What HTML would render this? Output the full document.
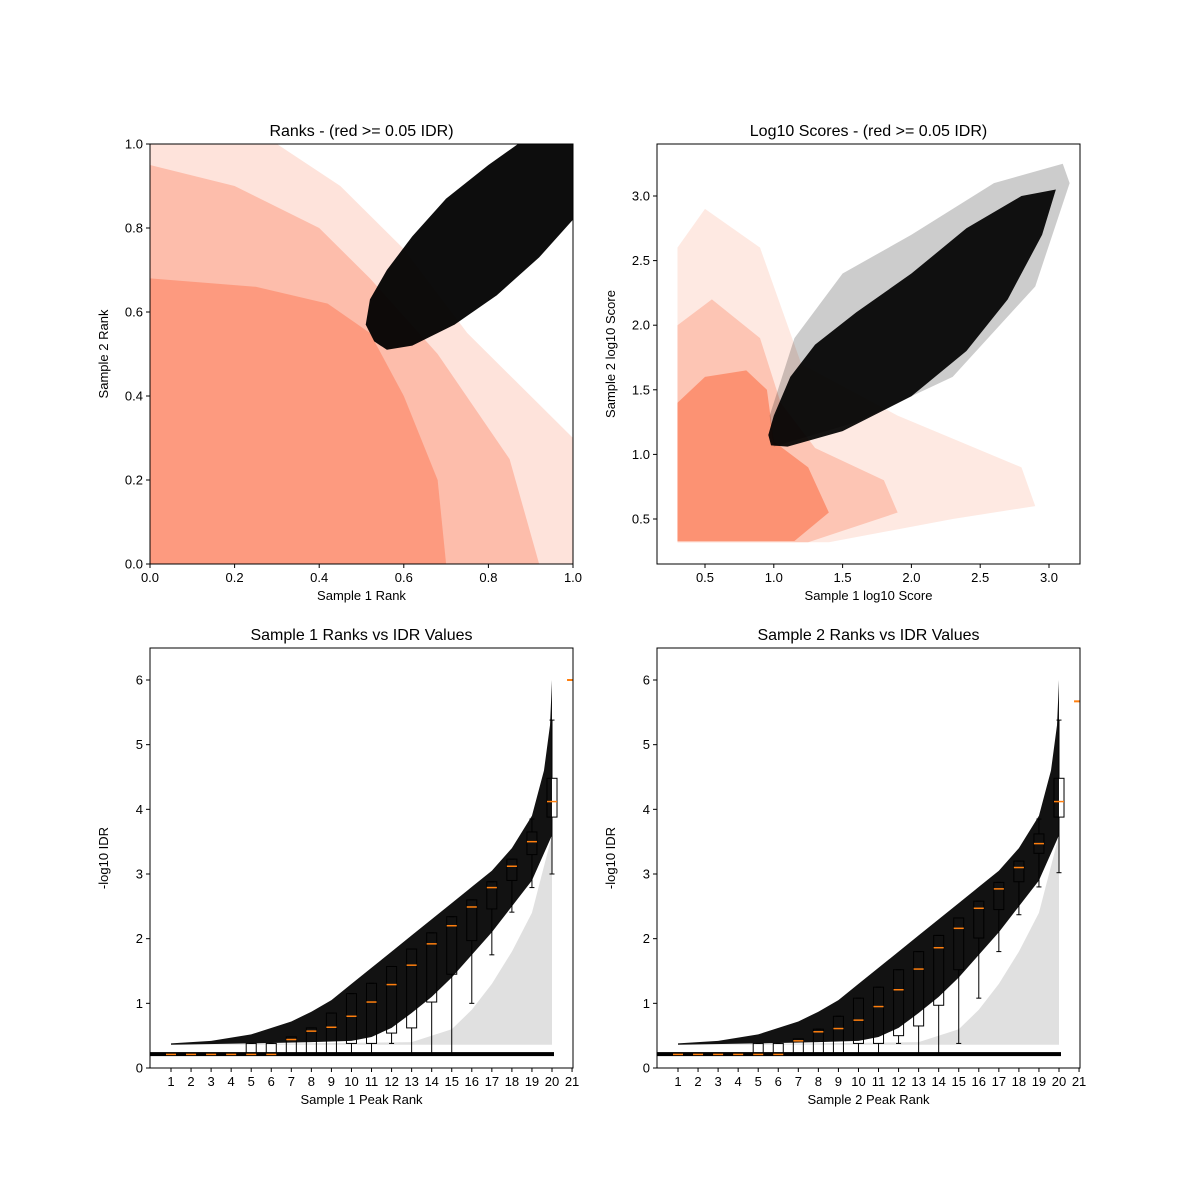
<!DOCTYPE html>
<html><head><meta charset="utf-8">
<style>
body{margin:0;background:#fff;}
svg{display:block;font-family:"Liberation Sans","DejaVu Sans",sans-serif;}
text{fill:#000;}
</style></head>
<body>
<svg id="fig" width="1200" height="1200" viewBox="0 0 1200 1200"></svg>
<script>
// ---------- data ----------
const rankXTicks=[0,0.2,0.4,0.6,0.8,1.0];
const rankYTicks=[0,0.2,0.4,0.6,0.8,1.0];
const rankTickLabels=["0.0","0.2","0.4","0.6","0.8","1.0"];
const rankSalmonFaint=[[0,0],[1,0],[1,0.3],[0.75,0.55],[0.6,0.75],[0.45,0.9],[0.3,1],[0,1]];
const rankSalmonMid=[[0,0],[0.92,0],[0.85,0.25],[0.68,0.5],[0.52,0.68],[0.4,0.8],[0.2,0.9],[0,0.95]];
const rankSalmonDense=[[0,0],[0.7,0],[0.68,0.2],[0.6,0.4],[0.52,0.55],[0.42,0.62],[0.25,0.66],[0,0.68]];
const rankBlack=[[0.53,0.53],[0.56,0.51],[0.62,0.52],[0.72,0.57],[0.82,0.64],[0.92,0.73],[1,0.82],[1,1],[0.87,1],[0.8,0.95],[0.7,0.87],[0.62,0.78],[0.56,0.7],[0.52,0.63],[0.51,0.57]];

const scoreXTicks=[0.5,1.0,1.5,2.0,2.5,3.0];
const scoreYTicks=[0.5,1.0,1.5,2.0,2.5,3.0];
const scoreTickLabels=["0.5","1.0","1.5","2.0","2.5","3.0"];
const scoreSalmonFaint=[[0.3,0.32],[1.4,0.32],[2.3,0.5],[2.9,0.6],[2.8,0.9],[1.9,1.3],[1.2,1.7],[0.9,2.6],[0.5,2.9],[0.3,2.6]];
const scoreSalmonMid=[[0.3,0.32],[1.25,0.32],[1.9,0.55],[1.8,0.8],[1.3,1.05],[1.05,1.4],[0.9,1.9],[0.55,2.2],[0.3,2.0]];
const scoreSalmonDense=[[0.3,0.33],[1.15,0.33],[1.4,0.55],[1.25,0.9],[1.0,1.1],[0.95,1.5],[0.8,1.65],[0.5,1.6],[0.3,1.4]];
const scoreBlackFaint=[[1.0,1.06],[1.6,1.25],[2.3,1.6],[2.9,2.3],[3.15,3.1],[3.1,3.25],[2.6,3.1],[2.0,2.7],[1.5,2.4],[1.15,1.9],[0.97,1.3]];
const scoreBlack=[[0.98,1.07],[1.1,1.06],[1.5,1.18],[2.0,1.45],[2.4,1.8],[2.7,2.2],[2.95,2.7],[3.05,3.05],[2.8,3.0],[2.4,2.75],[2.0,2.4],[1.6,2.1],[1.3,1.85],[1.12,1.6],[1.0,1.3],[0.96,1.15]];

const peakXTicks=[1,2,3,4,5,6,7,8,9,10,11,12,13,14,15,16,17,18,19,20,21];
const idrYTicks=[0,1,2,3,4,5,6];
const idrUpper=[[1,0.38],[3,0.42],[5,0.52],[7,0.72],[8,0.87],[9,1.05],[10,1.3],[11,1.55],[12,1.8],[13,2.05],[14,2.3],[15,2.55],[16,2.8],[17,3.05],[18,3.4],[19,3.9],[19.6,4.6],[19.9,5.3],[20,6.0]];
const idrBandLow=[[20,3.6],[19,2.9],[18,2.5],[17,2.1],[16,1.75],[15,1.4],[14,1.1],[13,0.85],[12,0.62],[11,0.48],[10,0.42],[8,0.4],[5,0.38],[1,0.36]];
const idrFaint=[[1,0.36],[20,0.36],[20,3.6],[19,2.4],[18,1.8],[17,1.3],[16,0.9],[15,0.6],[13,0.4]];
const idrFloor=0.215;
const box1Pos=[1,2,3,4,5,6,7,8,9,10,11,12,13,14,15,16,17,18,19,20];
const box1Med=[0.21,0.21,0.21,0.21,0.21,0.21,0.44,0.57,0.63,0.80,1.02,1.29,1.59,1.92,2.20,2.49,2.79,3.12,3.50,4.12];
const box1Q1=[0.21,0.21,0.21,0.21,0.21,0.21,0.21,0.21,0.21,0.38,0.38,0.54,0.62,1.02,1.45,1.97,2.46,2.90,3.30,3.88];
const box1Q3=[0.21,0.21,0.21,0.21,0.38,0.38,0.48,0.62,0.85,1.15,1.31,1.57,1.84,2.09,2.34,2.60,2.88,3.23,3.65,4.48];
const box1Lo=[0.21,0.21,0.21,0.21,0.21,0.21,0.21,0.21,0.21,0.21,0.21,0.38,0.21,0.21,0.21,1.0,1.75,2.41,2.79,3.0];
const box1Hi=[0.21,0.21,0.21,0.21,0.38,0.38,0.48,0.62,0.85,1.15,1.31,1.57,1.84,2.09,2.34,2.60,2.88,3.23,3.85,5.38];
const box2Med=[0.21,0.21,0.21,0.21,0.21,0.21,0.42,0.56,0.61,0.74,0.95,1.21,1.53,1.86,2.16,2.47,2.77,3.10,3.47,4.12];
const box2Q1=[0.21,0.21,0.21,0.21,0.21,0.21,0.21,0.21,0.21,0.38,0.38,0.50,0.65,0.97,1.52,2.01,2.45,2.88,3.32,3.88];
const box2Q3=[0.21,0.21,0.21,0.21,0.38,0.38,0.45,0.60,0.80,1.08,1.25,1.52,1.80,2.05,2.32,2.58,2.87,3.20,3.62,4.48];
const box2Lo=[0.21,0.21,0.21,0.21,0.21,0.21,0.21,0.21,0.21,0.21,0.21,0.38,0.21,0.21,0.38,1.08,1.80,2.37,2.80,3.02];
const box2Hi=[0.21,0.21,0.21,0.21,0.38,0.38,0.45,0.60,0.80,1.08,1.25,1.52,1.80,2.05,2.32,2.58,2.87,3.20,3.85,5.38];
const outlier1=[21,6.0];
const outlier2=[21,5.67];

// ---------- drawing ----------
const NS="http://www.w3.org/2000/svg";
const fig=document.getElementById('fig');
function mk(tag,attrs,parent){const e=document.createElementNS(NS,tag);for(const k in attrs)e.setAttribute(k,attrs[k]);(parent||fig).appendChild(e);return e;}
function linScale(d0,d1,r0,r1){return v=>r0+(v-d0)/(d1-d0)*(r1-r0);}
function poly(pts,sx,sy,fill,op,g,name){
  const p=mk('polygon',{points:pts.map(q=>sx(q[0])+','+sy(q[1])).join(' '),fill:fill,'fill-opacity':op},g);
  
  
  return p;
}
function axesFrame(x0,y0,w,h,name){
  const g=mk('g',{});
  
  
  const cid='clip-'+name;
  const cp=mk('clipPath',{id:cid},g);mk('rect',{x:x0,y:y0,width:w,height:h},cp);
  const inner=mk('g',{'clip-path':'url(#'+cid+')'},g);
  return {g,inner};
}
function finishAxes(g,x0,y0,w,h,sx,sy,xt,xl,yt,yl,title,xlab,ylab,prefix){
  const fr=mk('rect',{x:x0,y:y0,width:w,height:h,fill:'none',stroke:'#000','stroke-width':1},g);
  
  
  xt.forEach((v,i)=>{const X=sx(v);mk('line',{x1:X,x2:X,y1:y0+h,y2:y0+h+4,stroke:'#000'},g);
    const t=mk('text',{x:X,y:y0+h+18,'font-size':13,'text-anchor':'middle'},g);t.textContent=xl[i];
    
    });
  yt.forEach((v,i)=>{const Y=sy(v);mk('line',{x1:x0-4,x2:x0,y1:Y,y2:Y,stroke:'#000'},g);
    const t=mk('text',{x:x0-7,y:Y+4.5,'font-size':13,'text-anchor':'end'},g);t.textContent=yl[i];
    
    });
  const tt=mk('text',{x:x0+w/2,y:y0-8,'font-size':16,'text-anchor':'middle'},g);tt.textContent=title;
  
  
  const xa=mk('text',{x:x0+w/2,y:y0+h+36,'font-size':13,'text-anchor':'middle'},g);xa.textContent=xlab;
  
  
  const cy=y0+h/2;
  const ya=mk('text',{x:0,y:0,'font-size':13,'text-anchor':'middle',transform:'translate('+(x0-42)+','+cy+') rotate(-90)'},g);ya.textContent=ylab;
  
  
}
const SAL='#fc8f70';

// Panel 1: ranks
(function(){
  const x0=150,y0=144,w=423,h=420;
  const sx=linScale(0,1,x0,x0+w), sy=linScale(0,1,y0+h,y0);
  const {g,inner}=axesFrame(x0,y0,w,h,'ranks-panel');
  poly(rankSalmonFaint,sx,sy,SAL,0.25,inner,'rank-salmon-sparse');
  poly(rankSalmonMid,sx,sy,SAL,0.45,inner,'rank-salmon-mid');
  poly(rankSalmonDense,sx,sy,SAL,0.75,inner,'rank-salmon-dense');
  poly(rankBlack,sx,sy,'#000',0.95,inner,'rank-black-points');
  finishAxes(g,x0,y0,w,h,sx,sy,rankXTicks,rankTickLabels,rankYTicks,rankTickLabels,'Ranks - (red >= 0.05 IDR)','Sample 1 Rank','Sample 2 Rank','ranks');
})();

// Panel 2: log10 scores
(function(){
  const x0=657,y0=144,w=423,h=420;
  const sx=linScale(0.5,3.0,705,1049), sy=linScale(0.5,3.0,519,196);
  const {g,inner}=axesFrame(x0,y0,w,h,'scores-panel');
  poly(scoreSalmonFaint,sx,sy,SAL,0.2,inner,'score-salmon-sparse');
  poly(scoreSalmonMid,sx,sy,SAL,0.4,inner,'score-salmon-mid');
  poly(scoreSalmonDense,sx,sy,SAL,0.95,inner,'score-salmon-dense');
  poly(scoreBlackFaint,sx,sy,'#000',0.2,inner,'score-black-sparse');
  poly(scoreBlack,sx,sy,'#000',0.92,inner,'score-black-points');
  finishAxes(g,x0,y0,w,h,sx,sy,scoreXTicks,scoreTickLabels,scoreYTicks,scoreTickLabels,'Log10 Scores - (red >= 0.05 IDR)','Sample 1 log10 Score','Sample 2 log10 Score','scores');
})();

// Panels 3/4: IDR
function idrPanel(x0,med,q1,q3,lo,hi,out,title,xlab,prefix){
  const y0=648,w=423,h=420;
  const sx=linScale(1,20,x0+21,x0+402), sy=linScale(0,6,1068,680);
  const {g,inner}=axesFrame(x0,y0,w,h,prefix+'-panel');
  poly(idrFaint,sx,sy,'#000',0.12,inner,prefix+'-sparse-points');
  const band=idrUpper.concat(idrBandLow);
  poly(band,sx,sy,'#000',0.93,inner,prefix+'-dense-points');
  const fl=mk('rect',{x:x0,y:sy(idrFloor)-2,width:sx(20)-x0+2,height:4,fill:'#000'},inner);
  
  
  const bw=sx(1.25)-sx(1);
  box1Pos.forEach((p,i)=>{
    const bg=mk('g',{},inner);
    
    
    const X=sx(p);
    mk('line',{x1:X,x2:X,y1:sy(lo[i]),y2:sy(q1[i]),stroke:'#000','stroke-width':1},bg);
    mk('line',{x1:X,x2:X,y1:sy(q3[i]),y2:sy(hi[i]),stroke:'#000','stroke-width':1},bg);
    mk('line',{x1:X-bw/2,x2:X+bw/2,y1:sy(lo[i]),y2:sy(lo[i]),stroke:'#000'},bg);
    mk('line',{x1:X-bw/2,x2:X+bw/2,y1:sy(hi[i]),y2:sy(hi[i]),stroke:'#000'},bg);
    mk('rect',{x:X-bw,y:sy(q3[i]),width:2*bw,height:Math.max(0.5,sy(q1[i])-sy(q3[i])),fill:'none',stroke:'#000','stroke-width':1},bg);
    mk('line',{x1:X-bw,x2:X+bw,y1:sy(med[i]),y2:sy(med[i]),stroke:'#ff7f0e','stroke-width':1.5},bg);
  });
  const o=mk('line',{x1:sx(out[0])-bw,x2:sx(out[0])+bw,y1:sy(out[1]),y2:sy(out[1]),stroke:'#ff7f0e','stroke-width':2},inner);
  
  
  finishAxes(g,x0,y0,w,h,sx,sy,peakXTicks,peakXTicks.map(String),idrYTicks,idrYTicks.map(String),title,xlab,'-log10 IDR',prefix);
}
idrPanel(150,box1Med,box1Q1,box1Q3,box1Lo,box1Hi,outlier1,'Sample 1 Ranks vs IDR Values','Sample 1 Peak Rank','idr1');
idrPanel(657,box2Med,box2Q1,box2Q3,box2Lo,box2Hi,outlier2,'Sample 2 Ranks vs IDR Values','Sample 2 Peak Rank','idr2');
</script>
</body></html>
